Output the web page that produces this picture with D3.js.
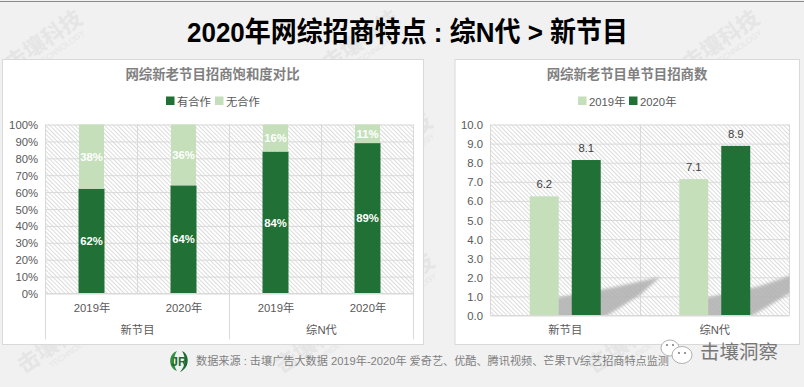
<!DOCTYPE html>
<html><head><meta charset="utf-8">
<script src="https://cdn.jsdelivr.net/npm/d3@7/dist/d3.min.js"></script>
<style>
html,body{margin:0;padding:0;background:#f1f1f1;overflow:hidden}
svg{display:block}
text{font-family:"Liberation Sans","Noto Sans CJK SC",sans-serif}
</style></head><body><div id="c"></div>
<script>
const pageTitle = "2020年网综招商特点 : 综N代 > 新节目";
const leftTitle = "网综新老节目招商饱和度对比";
const rightTitle = "网综新老节目单节目招商数";
const groups = ["新节目","综N代"];
const leftYears = ["2019年","2020年","2019年","2020年"];
const hasCoop = [62,64,84,89];
const noCoop = [38,36,16,11];
const leftLegend = ["有合作","无合作"];
const rightYears = ["2019年","2020年"];
const rightValues2019 = [6.24,7.14];
const rightValues2020 = [8.14,8.88];
const footerText = "数据来源 : 击壤广告大数据 2019年-2020年 爱奇艺、优酷、腾讯视频、芒果TV综艺招商特点监测";
const brand = "击壤洞察";
const watermarkSpots = [[48,47],[365,47],[725,47],[60,349],[318,349],[630,349],[398,150],[400,290]];

const DARK="#217136", LIGHT="#c5dfbb", GRID="#d9d9d9", TXT="#595959";
const svg=d3.select("#c").append("svg").attr("width",804).attr("height",387);
const defs=svg.append("defs");
const pat=defs.append("pattern").attr("id","hatch").attr("width",3).attr("height",3)
  .attr("patternUnits","userSpaceOnUse").attr("patternTransform","rotate(-45)");
pat.append("rect").attr("width",3).attr("height",3).attr("fill","#fff");
pat.append("line").attr("x1",0).attr("x2",0).attr("y1",0).attr("y2",3).attr("stroke","#d6d6d6").attr("stroke-width",1.7);
defs.append("filter").attr("id","blur").append("feGaussianBlur").attr("stdDeviation",1.8);
defs.append("clipPath").attr("id","rclip").append("rect").attr("x",490.5).attr("y",125).attr("width",299).attr("height",190);

svg.append("rect").attr("width",804).attr("height",387).attr("fill","#f1f1f1");
svg.append("line").attr("x1",0).attr("x2",804).attr("y1",1.5).attr("y2",1.5).attr("stroke","#8a8a8a").attr("stroke-width",1);

// watermarks
const wm=svg.append("g");
watermarkSpots.forEach(([x,y])=>{
  const g=wm.append("g").attr("transform",`translate(${x},${y}) rotate(-35)`).attr("text-anchor","middle");
  g.append("text").attr("font-size",22).attr("font-weight",700).attr("fill","#e5e5e5").text("击壤科技");
  g.append("text").attr("y",11).attr("x",10).attr("font-size",8).attr("fill","#e5e5e5").text("TECHNOLOGY");
});

// title
svg.append("text").attr("x",407.5).attr("y",42).attr("text-anchor","middle")
  .attr("font-size",28).attr("font-weight",700).attr("fill","#000")
  .attr("textLength",441).attr("lengthAdjust","spacingAndGlyphs").text(pageTitle);

function panel(x,y,w,h,title,tx){
  svg.append("rect").attr("x",x+.5).attr("y",y+.5).attr("width",w).attr("height",h)
    .attr("fill","#fff").attr("stroke","#d9d9d9");
  svg.append("text").attr("x",tx).attr("y",79).attr("text-anchor","middle")
    .attr("font-size",13.4).attr("font-weight",700).attr("fill","#7f7f7f").text(title);
}
function legend(items,y){
  items.forEach(it=>{
    svg.append("rect").attr("x",it.x).attr("y",y).attr("width",8.5).attr("height",8.5).attr("fill",it.c);
    svg.append("text").attr("x",it.x+11).attr("y",y+9).attr("font-size",11.3).attr("fill",TXT).text(it.t);
  });
}
function styleAxis(g){
  g.selectAll("path.domain").remove();
  g.selectAll("text").attr("fill",TXT).attr("font-size",11.3).attr("font-family",'"Liberation Sans","Noto Sans CJK SC",sans-serif');
  g.selectAll("line").attr("stroke",GRID).attr("stroke-width",1);
}

// LEFT
panel(2,59,421,285,leftTitle,212.5);
legend([{x:166,c:DARK,t:leftLegend[0]},{x:215,c:LIGHT,t:leftLegend[1]}],96.5);
const lx=d3.scaleBand().domain(d3.range(4)).range([45.5,413.5]);
const ly=d3.scaleLinear().domain([0,100]).range([293.5,124.5]);
svg.append("rect").attr("x",45.5).attr("y",124.5).attr("width",368).attr("height",169).attr("fill","url(#hatch)");
const lg=svg.append("g").attr("transform","translate(45.5,0)")
  .call(d3.axisLeft(ly).tickValues(d3.range(0,101,10)).tickFormat(d=>d+"%").tickSize(-368));
styleAxis(lg);
lg.selectAll("text").attr("x",-7.5).attr("dy","0.36em");
d3.range(5).forEach(d=>{
  const x=lx.bandwidth()*d+45.5;
  svg.append("line").attr("x1",x).attr("x2",x).attr("y1",124.5).attr("y2",293.5).attr("stroke",GRID);
});
const bw=26;
const lcx=i=>lx(i)+lx.bandwidth()/2;
svg.selectAll(".bd").data(hasCoop).join("rect")
  .attr("x",(d,i)=>lcx(i)-bw/2).attr("width",bw)
  .attr("y",d=>ly(d)).attr("height",d=>ly(0)-ly(d)).attr("fill",DARK);
svg.selectAll(".bl").data(noCoop).join("rect")
  .attr("x",(d,i)=>lcx(i)-bw/2+0.5).attr("width",bw-1)
  .attr("y",d=>ly(100)).attr("height",d=>ly(0)-ly(d)).attr("fill",LIGHT);
const valLabel=(sel)=>sel.attr("text-anchor","middle").attr("font-size",11.3).attr("font-weight",700).attr("fill","#fff");
svg.selectAll(".tb").data(hasCoop).join("text").call(valLabel)
  .attr("x",(d,i)=>lcx(i)).attr("y",d=>ly(d/2)+4).text(d=>d+"%");
svg.selectAll(".tl").data(noCoop).join("text").call(valLabel)
  .attr("x",(d,i)=>lcx(i)).attr("y",d=>ly(100-d/2)+4).text(d=>d+"%");
// category axis
const lxAxis=svg.append("g").attr("transform","translate(0,293.5)")
  .call(d3.axisBottom(d3.scaleOrdinal().domain(d3.range(4)).range(d3.range(4).map(lcx)))
    .tickSize(0).tickPadding(10.5).tickFormat(i=>leftYears[i]));
styleAxis(lxAxis);
svg.append("line").attr("x1",45.5).attr("x2",413.5).attr("y1",293.5).attr("y2",293.5).attr("stroke",GRID);
[0,2,4].forEach(i=>{
  const x=lx.bandwidth()*i+45.5;
  svg.append("line").attr("x1",x).attr("x2",x).attr("y1",293.5).attr("y2",339.5).attr("stroke",GRID);
});
groups.forEach((g,i)=>{
  svg.append("text").attr("x",lx.bandwidth()*(2*i+1)+45.5).attr("y",333.5).attr("text-anchor","middle")
    .attr("font-size",11.3).attr("fill",TXT).text(g);
});

// RIGHT
panel(454.5,59,344.5,285,rightTitle,627);
legend([{x:578,c:LIGHT,t:rightYears[0]},{x:629,c:DARK,t:rightYears[1]}],96.5);
const rx=d3.scaleBand().domain(groups).range([490.5,789.5]);
const ry=d3.scaleLinear().domain([0,10]).range([315.5,124.5]);
svg.append("rect").attr("x",490.5).attr("y",124.5).attr("width",299).attr("height",191).attr("fill","url(#hatch)");
const rg=svg.append("g").attr("transform","translate(490.5,0)")
  .call(d3.axisLeft(ry).tickValues(d3.range(0,11)).tickFormat(d3.format(".1f")).tickSize(-299));
styleAxis(rg);
rg.selectAll("text").attr("x",-7.5).attr("dy","0.36em");
[490.5,640.5,789.5].forEach(x=>svg.append("line").attr("x1",x).attr("x2",x).attr("y1",124.5).attr("y2",315.5).attr("stroke",GRID));
// diagonal watermark smear behind the bars
const smear=svg.append("g").attr("clip-path","url(#rclip)");
[[[555,320],[555,298],[610,288],[660,277],[640,295],[600,320]],
 [[705,320],[705,298],[760,286],[800,272],[800,287],[745,320]]].forEach(pts=>{
  smear.append("polygon").attr("filter","url(#blur)").attr("fill","#b0b0b0").attr("opacity",.85)
    .attr("points",pts.map(p=>p.join(",")).join(" "));
});
const rxInner=d3.scaleBand().domain([0,1]).range([0,rx.bandwidth()]).paddingInner(0.31).paddingOuter(0.935);
[[rightValues2019,LIGHT,0],[rightValues2020,DARK,1]].forEach(([vals,c,k])=>{
  const fmt=d3.format(".1f");
  svg.selectAll(".r"+k).data(vals).join("rect")
    .attr("x",(d,i)=>rx(groups[i])+rxInner(k)).attr("width",rxInner.bandwidth())
    .attr("y",d=>ry(d)).attr("height",d=>ry(0)-ry(d)).attr("fill",c);
  svg.selectAll(".rt"+k).data(vals).join("text").attr("text-anchor","middle").attr("font-size",11.3).attr("fill","#404040")
    .attr("x",(d,i)=>rx(groups[i])+rxInner(k)+rxInner.bandwidth()/2).attr("y",d=>ry(d)-8).text(fmt);
});
const rxAxis=svg.append("g").attr("transform","translate(0,315.5)")
  .call(d3.axisBottom(rx).tickSize(0).tickPadding(10));
styleAxis(rxAxis);
svg.append("line").attr("x1",490.5).attr("x2",789.5).attr("y1",315.5).attr("y2",315.5).attr("stroke",GRID);

// footer logo
const lgG=svg.append("g").attr("transform","translate(179,361)");
lgG.append("path").attr("d","M-2,-10 C-11,-7 -11,7 -2,10 C-6,4 -6,-4 -2,-10Z").attr("fill","#2f8f3f");
lgG.append("path").attr("d","M3,-10 C11,-7 11,7 1,11 C7,5 7,-4 3,-10Z").attr("fill","#1d6b35");
lgG.append("text").attr("text-anchor","middle").attr("y",4.5).attr("font-size",12).attr("font-weight",700).attr("fill","#1d6b35").text("JR");
svg.append("text").attr("x",196).attr("y",365).attr("font-size",11.2).attr("fill","#7f7f7f")
  .attr("textLength",473).attr("lengthAdjust","spacingAndGlyphs").text(footerText);
// wechat mark & brand
const wc=svg.append("g").attr("stroke","#a8a8a8").attr("stroke-width",.9).attr("fill","#fff");
wc.append("ellipse").attr("cx",670).attr("cy",348).attr("rx",9).attr("ry",8);
wc.append("ellipse").attr("cx",682).attr("cy",355).attr("rx",10).attr("ry",8.5);
[[667,345],[673,345],[679,353],[685,353]].forEach(([x,y])=>svg.append("circle").attr("cx",x).attr("cy",y).attr("r",1).attr("fill","#777"));
svg.append("text").attr("x",700).attr("y",358.5).attr("font-size",19.5).attr("fill","#777")
  .attr("font-family",'"Noto Sans CJK SC"').text(brand);
</script></body></html>
